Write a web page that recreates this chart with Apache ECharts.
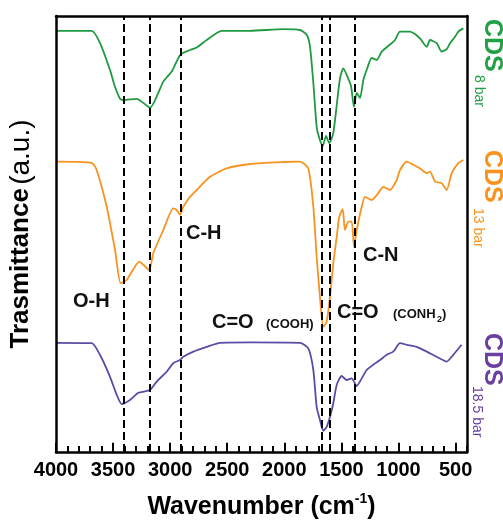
<!DOCTYPE html>
<html><head><meta charset="utf-8">
<script src="https://cdn.jsdelivr.net/npm/echarts@6/dist/echarts.min.js"></script>
<style>html,body{margin:0;padding:0;background:#fff}#c{width:503px;height:521px}</style>
</head><body><div id="c"></div>
<script>
// Wavenumbers (cm^-1) and transmittance (a.u., offset) for each sample
const wn8 = [4000,3687,3615,3527,3483,3439,3410,3293,3177,3060,2987,2911,2826,2768,2680,2549,2301,2009,1863,1804,1775,1746,1717,1694,1664,1635,1606,1571,1536,1512,1484,1454,1416,1390,1366,1337,1308,1279,1235,1191,1147,1103,1060,1031,987,899,856,812,753,724,665,622,578,549,505,476,432];
const t8  = [105.3,105.3,102.3,95.5,91.3,88.3,88,88.3,86.1,92.6,95.1,99.3,100.5,101.1,103,105.3,105.3,105.7,105.5,104.3,101.3,92.3,81.3,78.5,76.5,79,77.2,79.8,88,93.5,95.9,94.3,91.5,86.3,89.8,88.5,93,95.5,98.5,98,100.1,101.2,102.2,103,105.1,105.1,104.5,103.4,101.3,103,102.2,100.1,100.7,102.2,103.8,105.1,105.9];
const wn13 = [4000,3687,3644,3556,3483,3433,3381,3270,3235,3183,3148,3060,2973,2943,2914,2885,2826,2768,2651,2505,2301,2009,1863,1790,1746,1717,1688,1659,1629,1600,1571,1541,1519,1489,1469,1440,1410,1390,1366,1322,1293,1235,1177,1133,1074,1016,987,928,870,812,753,724,680,622,578,534,476,432];
const t13  = [72.6,72.3,70.5,61.3,50.5,42.2,43,47.6,46.8,45.5,49.7,55.5,60.9,60.5,59.3,61.3,63.8,65.5,68.8,70.9,72,72.5,72.6,70.9,61.3,48.8,38.8,31.3,32.6,38.8,47.2,53.8,58.8,60.7,55.5,57.6,57.6,51.3,55.5,61.3,63.8,63,64.7,66.3,65.5,68,70.5,72.6,71.8,70.9,69.7,70.1,67.6,67.2,65.5,69.7,72.2,73];
const wn185 = [4000,3687,3615,3527,3468,3425,3352,3279,3177,3118,3030,2973,2914,2885,2797,2680,2564,2301,1863,1790,1746,1717,1688,1659,1629,1600,1571,1541,1498,1454,1410,1366,1322,1279,1221,1162,1103,1046,987,928,841,753,665,578,520,447];
const t185  = [27.3,27.2,24.3,18.8,14.3,12,13,14.8,15.5,17.6,20.1,22.2,23,23.8,25.1,26.3,27.3,27.4,27.3,25.9,20.5,11.3,8,5.3,6.3,8.8,12.2,16.8,19,18,18.4,16.5,18.4,20.5,21.8,23,24.3,25.1,27.2,26.8,26.3,25.1,23.8,22.6,24.3,26.8];
// Assigned band positions (dashed guides)
const bands = [3410,3180,2910,1668,1606,1380];
// Axis ticks / labels
const majorTicks = [4000,3500,3000,2500,2000,1500,1000,500];
const minorTicks = [];
for (let v = 400; v <= 4000; v += 100) if (majorTicks.indexOf(v) < 0) minorTicks.push(v);

const zip = (a,b) => a.map((x,i) => [x, b[i]]);
const FF = '"Liberation Sans", Arial, sans-serif';
const BOX = {color:'#000', width:2.5};
const Y_MIN = 0, Y_MAX = 109;
// inward tick marks drawn through the axis scales (length in y-units)
const tickSegs = (vals, len) => vals.map(v => [{coord:[v, Y_MIN]}, {coord:[v, Y_MIN + len]}]);

const chart = echarts.init(document.getElementById('c'), null, {renderer:'canvas'});
chart.setOption({
  animation:false,
  backgroundColor:'#fff',
  grid:{left:56, right:36, top:16, bottom:69, containLabel:false, outerBoundsMode:'none', show:false},
  xAxis:[
    {
      type:'value', inverse:true, min:400, max:4000, position:'bottom', z:5,
      splitLine:{show:false},
      axisLine:{show:true, onZero:false, lineStyle:BOX},
      axisTick:{show:false},
      axisLabel:{show:true, margin:8, color:'#000', fontFamily:FF, fontWeight:'bold', fontSize:20,
        customValues:majorTicks, formatter: v => String(v)},
      name:'{b|Wavenumber (cm}{s|-1}{b|)}', nameLocation:'middle', nameGap:40,
      nameTextStyle:{rich:{
        b:{fontFamily:FF, fontWeight:'bold', fontSize:25, color:'#000'},
        s:{fontFamily:FF, fontWeight:'bold', fontSize:14, color:'#000', padding:[0,0,16,0]}
      }}
    },
    {
      type:'value', inverse:true, min:400, max:4000, position:'top', z:5,
      splitLine:{show:false}, axisLine:{show:true, onZero:false, lineStyle:BOX},
      axisTick:{show:false}, axisLabel:{show:false}
    }
  ],
  yAxis:[
    {
      type:'value', min:Y_MIN, max:Y_MAX, position:'left', z:5,
      axisLine:{show:true, onZero:false, lineStyle:BOX}, axisTick:{show:false}, axisLabel:{show:false}, splitLine:{show:false},
      name:'{b|Trasmittance} {n|(a.u.)}', nameLocation:'middle', nameRotate:90, nameGap:21,
      nameTextStyle:{rich:{
        b:{fontFamily:FF, fontWeight:'bold', fontSize:26, color:'#000'},
        n:{fontFamily:FF, fontSize:28, color:'#000'}
      }}
    },
    {
      type:'value', min:Y_MIN, max:Y_MAX, position:'right', z:5,
      axisLine:{show:true, onZero:false, lineStyle:BOX}, axisTick:{show:false}, axisLabel:{show:false}, splitLine:{show:false}
    }
  ],
  series:[
    {type:'line', name:'CDS 8 bar', data:zip(wn8,t8), showSymbol:false, symbol:'none', smooth:0.2,
     lineStyle:{color:'#1f9a40', width:1.8}, z:3,
     markLine:{silent:true, symbol:'none', label:{show:false},
       lineStyle:{color:'#000', type:[8,4], width:2},
       data:bands.map(b => ({xAxis:b}))}},
    {type:'line', name:'CDS 13 bar', data:zip(wn13,t13), showSymbol:false, symbol:'none', smooth:0.2,
     lineStyle:{color:'#f7931e', width:1.8}, z:3,
     markLine:{silent:true, symbol:'none', label:{show:false},
       lineStyle:{color:'#000', type:'solid', width:2},
       data:tickSegs(minorTicks, 1.5)}},
    {type:'line', name:'CDS 18.5 bar', data:zip(wn185,t185), showSymbol:false, symbol:'none', smooth:0.2,
     lineStyle:{color:'#5a4ca3', width:1.8}, z:3,
     markLine:{silent:true, symbol:'none', label:{show:false},
       lineStyle:{color:'#000', type:'solid', width:2},
       data:tickSegs(majorTicks, 2.3)}}
  ],
  graphic:[
    // peak annotations
    {type:'text', left:73, top:291, style:{text:'O-H', font:'bold 20px '+FF, fill:'#111'}},
    {type:'text', left:186, top:223, style:{text:'C-H', font:'bold 20px '+FF, fill:'#111'}},
    {type:'text', left:363, top:245, style:{text:'C-N', font:'bold 20px '+FF, fill:'#111'}},
    {type:'text', left:212, top:312, style:{text:'C=O', font:'bold 20px '+FF, fill:'#111'}},
    {type:'text', left:266, top:318, style:{text:'(COOH)', font:'bold 13px '+FF, fill:'#111'}},
    {type:'text', left:337, top:302, style:{text:'C=O', font:'bold 20px '+FF, fill:'#111'}},
    {type:'text', left:393, top:308, style:{text:'(CONH', font:'bold 13px '+FF, fill:'#111'}},
    {type:'text', left:437, top:315, style:{text:'2', font:'bold 9px '+FF, fill:'#111'}},
    {type:'text', left:442, top:308, style:{text:')', font:'bold 13px '+FF, fill:'#111'}},
    // sample labels (rotated)
    {type:'text', x:492, y:19, rotation:-Math.PI/2, style:{text:'CDS', font:'bold 25px '+FF, fill:'#22a045', align:'left', verticalAlign:'middle'}},
    {type:'text', x:479, y:75, rotation:-Math.PI/2, style:{text:'8 bar', font:'14px '+FF, fill:'#22a045', align:'left', verticalAlign:'middle'}},
    {type:'text', x:492, y:150, rotation:-Math.PI/2, style:{text:'CDS', font:'bold 25px '+FF, fill:'#f7931e', align:'left', verticalAlign:'middle'}},
    {type:'text', x:478, y:208, rotation:-Math.PI/2, style:{text:'13 bar', font:'14px '+FF, fill:'#f7931e', align:'left', verticalAlign:'middle'}},
    {type:'text', x:492, y:333, rotation:-Math.PI/2, style:{text:'CDS', font:'bold 25px '+FF, fill:'#6b3fa0', align:'left', verticalAlign:'middle'}},
    {type:'text', x:477, y:386, rotation:-Math.PI/2, style:{text:'18.5 bar', font:'14px '+FF, fill:'#6b3fa0', align:'left', verticalAlign:'middle'}}
  ]
});
</script></body></html>
